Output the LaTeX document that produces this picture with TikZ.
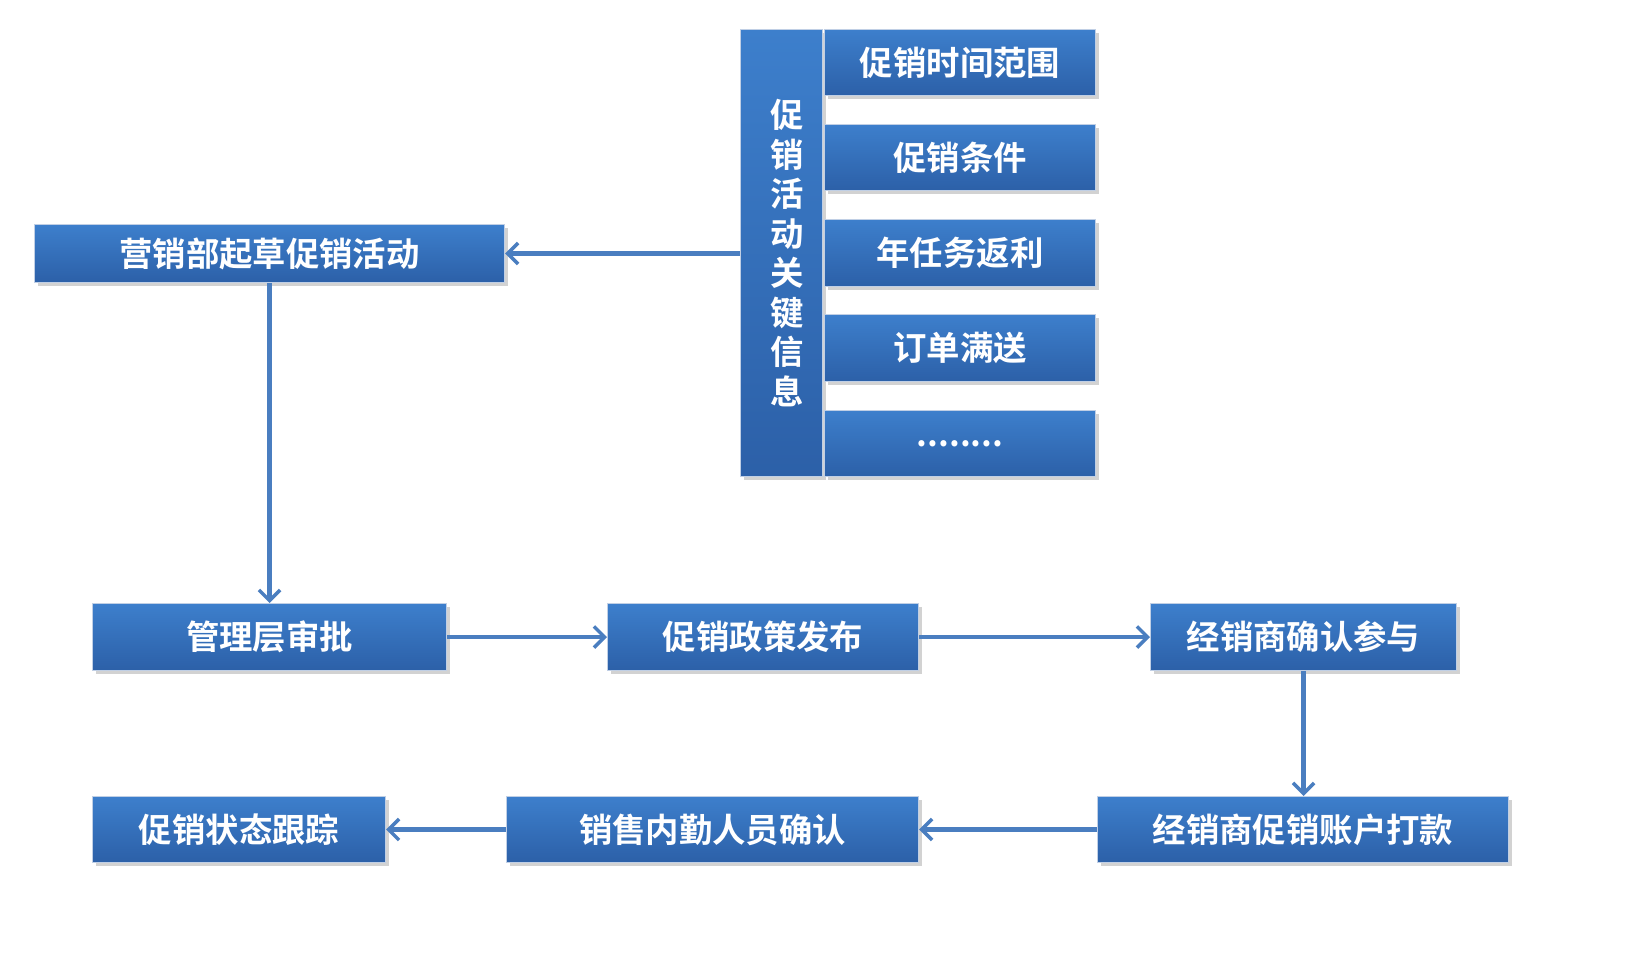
\documentclass[tikz,border=0pt]{standalone}
\usepackage{fontspec}
\setmainfont{Noto Sans CJK SC}[BoldFont={Noto Sans CJK SC Bold}]
\usetikzlibrary{arrows.meta,shadows}
\definecolor{boxtop}{HTML}{3D7FCC}
\definecolor{boxbot}{HTML}{2C60A8}
\definecolor{linkblue}{HTML}{4A7EC0}
\tikzset{
  box/.style={anchor=north west,inner sep=0pt,draw=white!70!boxbot,line width=0.6pt,
    top color=boxtop,bottom color=boxbot,text=white,
    font=\fontsize{19}{24}\selectfont\bfseries,
    drop shadow={shadow xshift=2pt,shadow yshift=-2pt,opacity=0.35}},
  link/.style={draw=linkblue,line width=2.4pt,-{Straight Barb[length=6pt,width=12pt,line width=2pt]}}
}
\newcommand{\bx}[6]{\node[box,minimum width=(#4-#2)*0.02cm,minimum height=(#5-#3)*0.02cm] (#1) at (#2,-#3) {#6};}
\begin{document}
\begin{tikzpicture}[x=0.02cm,y=0.02cm]
\fill[white] (0,0) rectangle (1630,-976);
% key information column
\bx{key}{740}{29}{822}{476}{}
\node[text=white,font=\fontsize{19}{22.5}\selectfont\bfseries,align=center,text width=1.2em] at (key.center)
  {促\\销\\活\\动\\关\\键\\信\\息};
\bx{k1}{824}{29}{1095}{95}{促销时间范围}
\bx{k2}{824}{124}{1095}{190}{促销条件}
\bx{k3}{824}{219}{1095}{286}{年任务返利}
\bx{k4}{824}{314}{1095}{381}{订单满送}
\bx{k5}{824}{410}{1095}{476}{........}

% process
\bx{draft}{34}{224}{504}{282}{营销部起草促销活动}
\bx{approve}{92}{603}{446}{670}{管理层审批}
\bx{publish}{607}{603}{918}{670}{促销政策发布}
\bx{dealer}{1150}{603}{1456}{670}{经销商确认参与}
\bx{pay}{1097}{796}{1508}{862}{经销商促销账户打款}
\bx{office}{506}{796}{918}{862}{销售内勤人员确认}
\bx{track}{92}{796}{385}{862}{促销状态跟踪}

% connectors
\draw[link] (key.west|-draft.east) -- (draft.east);
\draw[link] (draft.south-|approve.north) -- (approve.north);
\draw[link] (approve) -- (publish);
\draw[link] (publish) -- (dealer);
\draw[link] (dealer.south) -- (pay.north-|dealer.south);
\draw[link] (pay) -- (office);
\draw[link] (office) -- (track);
\pgfresetboundingbox
\path[use as bounding box] (0,0) rectangle (1630,-976);
\end{tikzpicture}
\end{document}
